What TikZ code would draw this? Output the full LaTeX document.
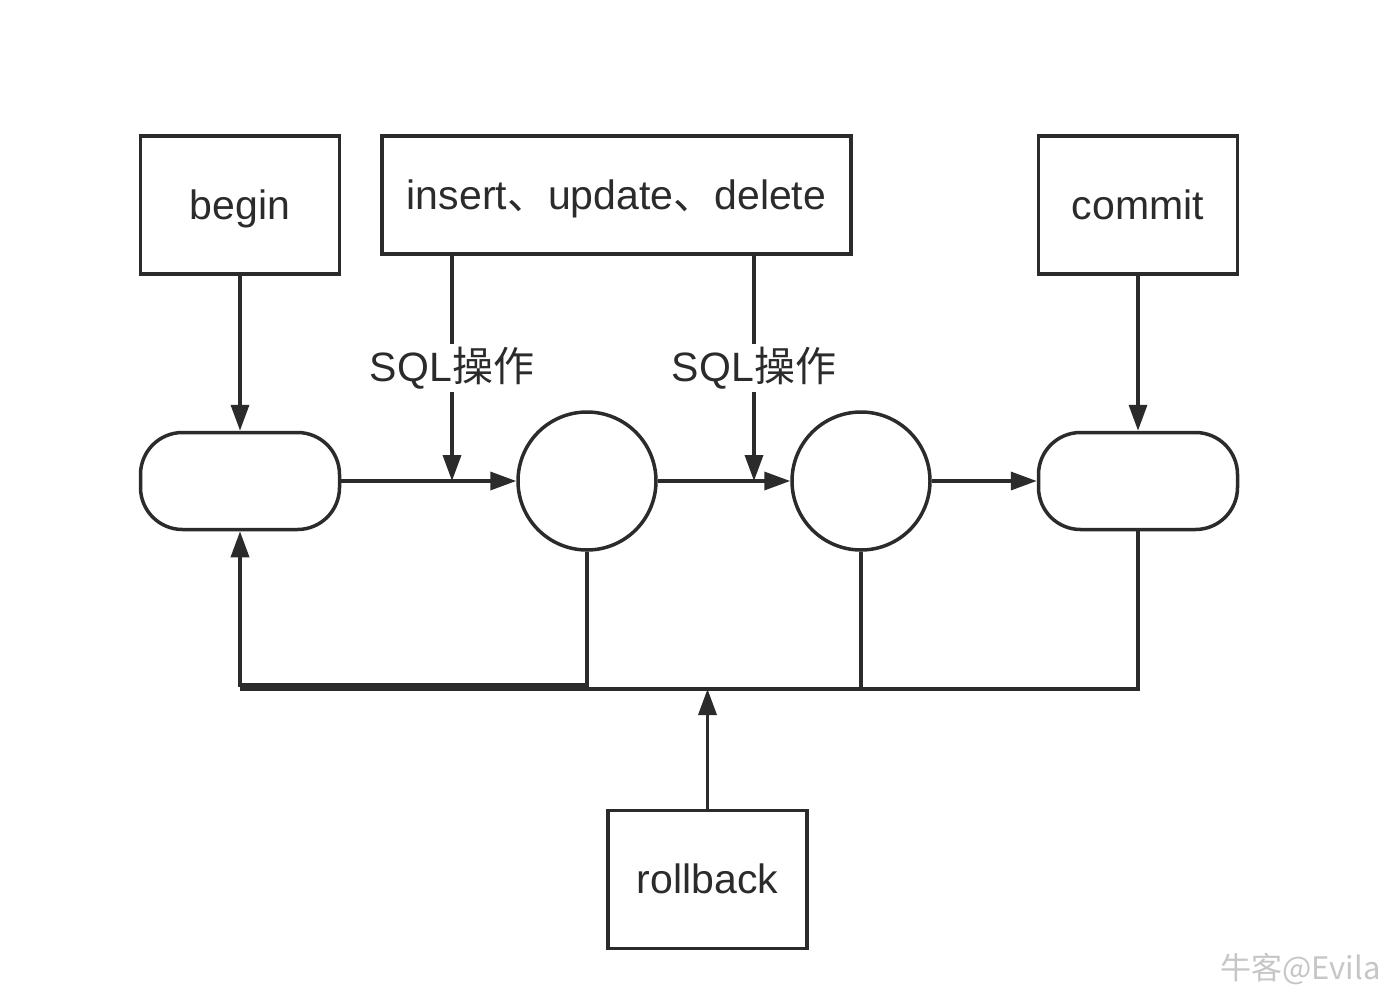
\documentclass[tikz,border=0pt]{standalone}
\usepackage{fontspec}
\setmainfont{Liberation Sans}
\newfontfamily\cjk{Noto Sans CJK SC}
\usetikzlibrary{arrows.meta}
\definecolor{ink}{HTML}{2B2B2B}

\begin{document}
\begin{tikzpicture}[x=1pt,y=-1pt,
	box/.style={draw=ink, line width=3.5pt, text=ink, inner sep=0pt, minimum width=199pt, minimum height=138pt, text height=30pt, text depth=2pt, font=\fontsize{41}{48}\selectfont},
	term/.style={draw=ink, line width=3.5pt, rounded corners=42pt, minimum width=199pt, minimum height=97pt},
	state/.style={draw=ink, line width=3.5pt, circle, inner sep=0pt, minimum size=138pt},
	flow/.style={draw=ink, line width=3.5pt, -{Triangle[length=26pt,width=18pt]}},
	lbl/.style={fill=white, text=ink, inner sep=3pt, font=\fontsize{41}{48}\selectfont},
	rail/.style={draw=ink, line width=3.5pt}]
	\useasboundingbox (0,0) rectangle (1390,996);
	%\draw[help lines] (0,0) grid[step=100] (1390,996);
	\node[box] (begin) at (240,205) {begin};
	\node[box, minimum width=469pt, minimum height=118pt] (ops) at (616.5,195) {insert{\cjk 、}update{\cjk 、}delete};
	\node[box] (commit) at (1138,205) {commit};
	\node[term] (start) at (240,481) {};
	\node[state] (s1) at (587,481) {};
	\node[state] (s2) at (861,481) {};
	\node[term] (finish) at (1138,481) {};
	\node[box, minimum width=199pt] (rollback) at (707.5,879.5) {rollback};
	\coordinate (op1) at (452,481);
	\coordinate (op2) at (754,481);
	\coordinate (back) at (240,685);
	\coordinate (bus) at (240,689);
	% main line
	\draw[flow] (begin) -- (start);
	\draw[flow] (commit) -- (finish);
	\draw[flow] (start) -- (s1);
	\draw[flow] (s1) -- (s2);
	\draw[flow] (s2) -- (finish);
	\draw[flow] (ops.south -| op1) -- node[lbl] {SQL{\cjk 操作}} (op1);
	\draw[flow] (ops.south -| op2) -- node[lbl] {SQL{\cjk 操作}} (op2);
	% rollback paths
	\draw[flow] (s1.south) |- (back) -- (start.south);
	\draw[rail] (bus) -| (finish.south);
	\draw[rail] (s2.south) -- (s2.south |- bus);
	\draw[flow] (rollback) -- (rollback.north |- bus);
	\node[anchor=east, text=gray!45, font=\cjk\fontsize{31}{36}\selectfont] (mark) at (1384,969) {牛客@Evila};
\end{tikzpicture}
\end{document}
